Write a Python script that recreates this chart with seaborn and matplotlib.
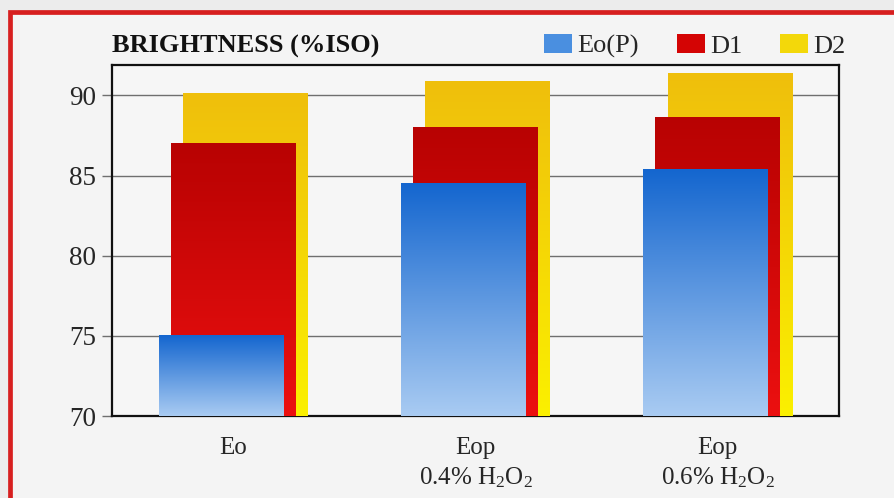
import numpy as np
import pandas as pd
import seaborn as sns
import matplotlib
import matplotlib.pyplot as plt
from matplotlib.colors import LinearSegmentedColormap
from matplotlib.patches import Rectangle, Patch

matplotlib.use("Agg")

# data
categories = ["Eo", "Eop\n0.4% H$_2$O$_2$", "Eop\n0.6% H$_2$O$_2$"]
series_names = ["Eo(P)", "D1", "D2"]
eo_p = [75.0, 84.5, 85.4]
d1 = [87.0, 88.0, 88.6]
d2 = [90.1, 90.9, 91.4]
yticks = [70, 75, 80, 85, 90]

sns.set_theme(style="white")
plt.rcParams["font.family"] = ["Liberation Serif", "DejaVu Serif"]
plt.rcParams["mathtext.fontset"] = "custom"
plt.rcParams["mathtext.rm"] = "Liberation Serif"
plt.rcParams["mathtext.it"] = "Liberation Serif:italic"

# top colour, bottom colour, legend colour, offset
styles = {
    "D2": ("#efbf0c", "#fbf000", "#f3d80a", 0.05),
    "D1": ("#b80202", "#ec1010", "#d40404", 0.0),
    "Eo(P)": ("#1466cf", "#a9cbf2", "#4a8fe0", -0.05),
}

fig = plt.figure(figsize=(8.95, 4.98), dpi=100)
fig.patch.set_facecolor("#ececec")
frame = Rectangle((10.5 / 895, -0.1), 1.2, 1.1 - 12.5 / 498,
                  transform=fig.transFigure, facecolor="#f4f4f4",
                  edgecolor="#d71f1f", linewidth=3.4, zorder=-5)
fig.add_artist(frame)

ax = fig.add_axes([112 / 895, 1 - 416 / 498, 727 / 895, 351 / 498])
ax.set_facecolor("#f6f6f6")

values = {"Eo(P)": eo_p, "D1": d1, "D2": d2}
ymin, ymax = 70, 91.9
z = 3
for name in ["D2", "D1", "Eo(P)"]:
    top_c, bot_c, base_c, off = styles[name]
    df = pd.DataFrame({"x": np.arange(len(categories)) + off, "y": values[name]})
    n0 = len(ax.patches)
    sns.barplot(data=df, x="x", y="y", native_scale=True, width=0.515,
                color=base_c, saturation=1, ax=ax, zorder=z,
                linewidth=0, edgecolor="none")
    cmap = LinearSegmentedColormap.from_list(name, [bot_c, top_c])
    grad = np.linspace(0, 1, 256).reshape(-1, 1)
    for p in ax.patches[n0:]:
        x0, w, top = p.get_x(), p.get_width(), p.get_y() + p.get_height()
        ax.imshow(grad, extent=[x0, x0 + w, ymin, top], origin="lower",
                  aspect="auto", cmap=cmap, zorder=z + 0.5)
    z += 1

ax.set_xlim(-0.5, 2.5)
ax.set_ylim(ymin, ymax)
ax.set_xticks(range(len(categories)))
ax.set_xticklabels(categories, fontsize=18, linespacing=1.35)
ax.set_yticks(yticks)
ax.set_yticklabels([str(t) for t in yticks], fontsize=19.5)
ax.set_xlabel("")
ax.set_ylabel("")
ax.yaxis.grid(True, color="#6f6f6f", linewidth=1.0, zorder=1)
ax.set_axisbelow(True)
ax.tick_params(axis="y", length=7, width=1.0, color="#6f6f6f", left=True, pad=4.5)
ax.tick_params(axis="x", length=0, pad=15)
for s in ax.spines.values():
    s.set_color("#111111")
    s.set_linewidth(1.6)

ax.text(0.0, 1.035, "BRIGHTNESS (%ISO)", transform=ax.transAxes, ha="left",
        va="baseline", fontsize=19, fontweight="bold", color="#111111")

handles = [Patch(facecolor=styles[n][2], edgecolor="none") for n in series_names]
ax.legend(handles, series_names, loc="lower right", bbox_to_anchor=(1.031, 0.975),
          ncol=3, frameon=False, fontsize=19, handlelength=1.05, handleheight=0.7,
          handletextpad=0.2, columnspacing=1.45, borderaxespad=0.2)

fig.savefig("out.png", dpi=100, facecolor=fig.get_facecolor())
